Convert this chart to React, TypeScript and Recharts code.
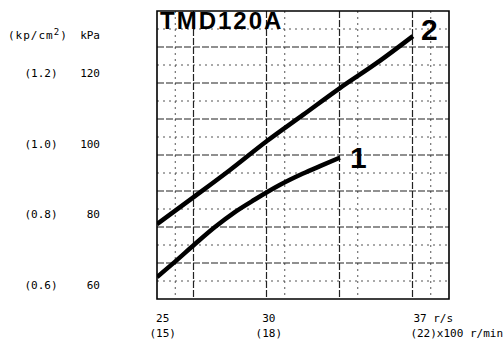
import React from "react";
import { LineChart, Line, XAxis, YAxis, CartesianGrid, ReferenceArea } from "recharts";

// curve 1 / curve 2 (r/s vs kPa)
const curve1Speed = [24.73, 25.57, 26.52, 27.46, 28.4, 29.34, 30.51, 31.61, 32.41, 33.35];
const curve1Kpa = [62.2, 66.5, 71.55, 76.36, 80.6, 84.15, 88.25, 91.5, 93.6, 96.0];
const curve2Speed = [24.73, 26.52, 28.17, 29.91, 31.61, 33.35, 35.09, 36.79];
const curve2Kpa = [77.2, 85.1, 92.5, 100.7, 108.1, 115.7, 122.8, 130.4];

// axis ticks
const speedTicks = [25, 30, 37];
const speedLabels = ["25", "30", "37 r/s"];
const rpmLabels = ["(15)", "(18)", "(22)x100 r/min"];
const kpaTicks = [60, 80, 100, 120];
const kpLabels = ["(0.6)", "(0.8)", "(1.0)", "(1.2)"];

const X_MIN = 24.73;
const X_MAX = 38.49;
const Y_MIN = 56;
const Y_MAX = 137.5;
const DIV = 16;

const curve1 = curve1Speed.map((x, i) => ({ x, y: curve1Kpa[i] }));
const curve2 = curve2Speed.map((x, i) => ({ x, y: curve2Kpa[i] }));

const xGrid = Array.from({ length: DIV + 1 }, (_, i) => X_MIN + (i * (X_MAX - X_MIN)) / DIV);
const yGrid = Array.from({ length: DIV + 1 }, (_, i) => Y_MIN + (i * (Y_MAX - Y_MIN)) / DIV);
const xMajor = xGrid.filter((_, i) => i % 2 === 0 && i > 0 && i < DIV);
const xMinor = xGrid.filter((_, i) => i % 2 === 1);
const yMajor = yGrid.filter((_, i) => i % 2 === 0 && i > 0 && i < DIV);
const yMinor = yGrid.filter((_, i) => i % 2 === 1);

const mono = "'DejaVu Sans Mono', monospace";

const curveLabel = (name: string, last: number, dx: number, dy: number) => (props: any) => {
  if (props.index !== last) return null;
  return (
    <text
      x={props.x + dx}
      y={props.y + dy}
      fontFamily="'Liberation Sans', Arial, sans-serif"
      fontWeight="bold"
      fontSize={30}
      fill="#000"
    >
      {name}
    </text>
  );
};

export default function App() {
  return (
    <div style={{ position: "absolute", left: 0, top: 0, background: "#fff" }}>
      <LineChart
        width={504}
        height={347}
        margin={{ top: 11, right: 55, bottom: 0, left: 7 }}
      >
        {/* dotted minor grid, dashed major grid */}
        <CartesianGrid
          horizontalValues={yMinor}
          verticalValues={xMinor}
          stroke="#555"
          strokeDasharray="2 4"
          strokeWidth={1}
        />
        <CartesianGrid
          horizontalValues={yMajor}
          verticalValues={xMajor}
          stroke="#222"
          strokeDasharray="7 2"
          strokeWidth={1.2}
        />
        <XAxis
          type="number"
          dataKey="x"
          domain={[X_MIN, X_MAX]}
          ticks={speedTicks}
          height={48}
          axisLine={false}
          tickLine={false}
          tickSize={0}
          tickMargin={0}
          allowDataOverflow
          tick={({ x, y, payload }: any) => {
            const i = speedTicks.indexOf(payload.value);
            const last = i === speedTicks.length - 1;
            return (
              <g fontFamily={mono} fontSize={11} fill="#000">
                <text x={last ? x - 4 : x} y={y + 23} textAnchor={last ? "start" : "middle"}>
                  {speedLabels[i]}
                </text>
                <text x={last ? x - 7 : x} y={y + 38} textAnchor={last ? "start" : "middle"}>
                  {rpmLabels[i]}
                </text>
              </g>
            );
          }}
        />
        <YAxis
          type="number"
          dataKey="y"
          domain={[Y_MIN, Y_MAX]}
          ticks={kpaTicks}
          width={150}
          axisLine={false}
          tickLine={false}
          tickSize={0}
          tickMargin={0}
          allowDataOverflow
          tick={({ x, y, payload }: any) => {
            const i = kpaTicks.indexOf(payload.value);
            return (
              <g fontFamily={mono} fontSize={11} fill="#000">
                <text x={x - 116} y={y + 4} textAnchor="middle">
                  {kpLabels[i]}
                </text>
                <text x={x - 57} y={y + 4} textAnchor="end">
                  {payload.value}
                </text>
              </g>
            );
          }}
        />
        <ReferenceArea
          x1={X_MIN}
          x2={X_MAX}
          y1={Y_MIN}
          y2={Y_MAX}
          fill="none"
          stroke="#000"
          strokeWidth={1.6}
          fillOpacity={0}
        />
        <Line
          data={curve1}
          dataKey="y"
          type="monotone"
          stroke="#000"
          strokeWidth={4.5}
          dot={false}
          isAnimationActive={false}
          label={curveLabel("1", curve1.length - 1, 10, 10)}
        />
        <Line
          data={curve2}
          dataKey="y"
          type="monotone"
          stroke="#000"
          strokeWidth={4.5}
          dot={false}
          isAnimationActive={false}
          label={curveLabel("2", curve2.length - 1, 8, 4)}
        />
        <text
          x={160}
          y={29}
          fontFamily="'Liberation Sans', Arial, sans-serif"
          fontWeight="bold"
          fontSize={24}
          letterSpacing={2}
          fill="#000"
        >
          TMD120A
        </text>
        <text x={8} y={39} fontFamily={mono} fontSize={11} letterSpacing={1} fill="#000">
          (kp/cm<tspan dy={-4} fontSize={9}>2</tspan>
          <tspan dy={4}>)</tspan>
        </text>
        <text x={100} y={39} fontFamily={mono} fontSize={11} textAnchor="end" fill="#000">
          kPa
        </text>
      </LineChart>
    </div>
  );
}
